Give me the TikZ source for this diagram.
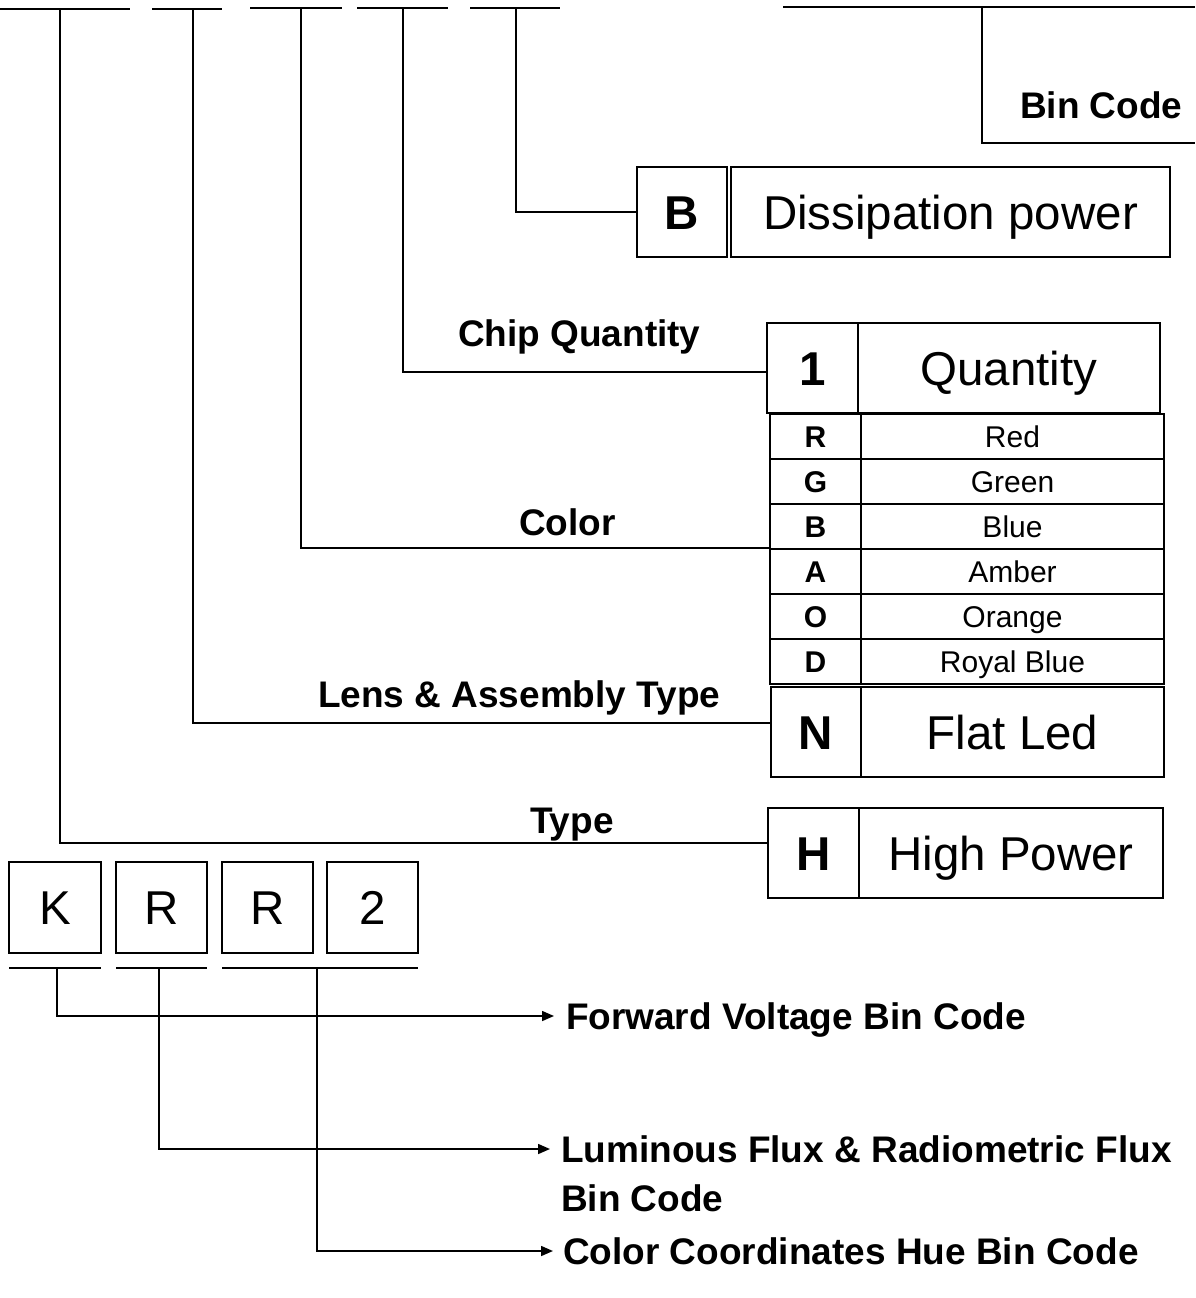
\documentclass[tikz,border=0pt]{standalone}
\usepackage{fontspec}
\setmainfont{Liberation Sans}
\usetikzlibrary{arrows.meta}
\begin{document}
\begin{tikzpicture}[x=1pt,y=-1pt, line width=2pt,
  cell/.style={draw, inner sep=0pt, anchor=center},
  big/.style={font=\fontsize{47.5}{50}\selectfont, text height=34pt, text depth=0pt},
  bigb/.style={font=\bfseries\fontsize{47.5}{50}\selectfont, text height=34pt, text depth=0pt},
  small/.style={font=\fontsize{30}{32}\selectfont, text height=21.5pt, text depth=0pt},
  smallb/.style={font=\bfseries\fontsize{30}{32}\selectfont, text height=21.5pt, text depth=0pt},
  lab/.style={font=\bfseries\fontsize{37}{40}\selectfont, text height=26.5pt, text depth=0pt, inner sep=0pt, anchor=west},
  arr/.style={-{Triangle[length=12pt,width=10pt]}, line width=1.6pt}]
\useasboundingbox (0,0) rectangle (1195,1298);

% top segments
\draw (0,9)--(130,9);
\draw (152,9)--(222,9);
\draw (250,8)--(342,8);
\draw (357,8)--(448,8);
\draw (470,8)--(560,8);
\coordinate (t1) at (60,9);
\coordinate (t2) at (193,9);
\coordinate (t3) at (301,8);
\coordinate (t4) at (403,8);
\coordinate (t5) at (516,8);

% top right bracket
\coordinate (br1) at (783,7);
\coordinate (br2) at (1195,7);
\coordinate (br3) at (982,7);
\coordinate (br4) at (1195,143);
\draw (br1)--(br2);
\draw (br3) |- (br4);
\node[lab] (bincode) at (1019,105) {Bin Code};

% B / Dissipation power
\node[cell,bigb,minimum width=90pt,minimum height=90pt] (bB) at (682,212) {B};
\node[cell,big,minimum width=439pt,minimum height=90pt] (bD) at (950.5,212) {Dissipation power};

% Quantity
\node[lab] (chipq) at (457,333) {Chip Quantity};
\node[cell,bigb,minimum width=91pt,minimum height=90pt] (q1) at (812.5,368) {1};
\node[cell,big,minimum width=302pt,minimum height=90pt] (q2) at (1009,368) {Quantity};

% Color rows
\foreach \nm/\k/\v/\y in {rR/R/Red/436.5, rG/G/Green/481.5, rB/B/Blue/526.5, rA/A/Amber/571.5, rO/O/Orange/616.5, rD/D/Royal Blue/661.5}{
  \node[cell,smallb,minimum width=91pt,minimum height=45pt] (\nm) at (815.5,\y) {\k};
  \node[cell,small,minimum width=303pt,minimum height=45pt] (\nm v) at (1012.5,\y) {\v};
}
\node[lab] (colorlab) at (518,522) {Color};

% N / Flat Led
\node[lab] (lens) at (317,694) {Lens \& Assembly Type};
\node[cell,bigb,minimum width=90pt,minimum height=90pt] (nL) at (816,732) {N};
\node[cell,big,minimum width=303pt,minimum height=90pt] (nR) at (1012.5,732) {Flat Led};

% H / High Power
\node[lab] (typelab) at (529,820) {Type};
\node[cell,bigb,minimum width=91pt,minimum height=90pt] (hL) at (813.5,853) {H};
\node[cell,big,minimum width=304pt,minimum height=90pt] (hR) at (1011,853) {High Power};

% connectors top
\draw (t5) |- (bB.west);
\draw (t4) |- ([yshift=-4pt]q1.west);
\draw (t3) |- (rA.north west);
\draw (t2) |- ([yshift=9pt]nL.west);
\draw (t1) |- ([yshift=10pt]hL.west);

% K R R 2
\node[cell,big,minimum width=92pt,minimum height=91pt] (k1) at (55,907.5) {K};
\node[cell,big,minimum width=91pt,minimum height=91pt] (k2) at (161.5,907.5) {R};
\node[cell,big,minimum width=91pt,minimum height=91pt] (k3) at (267.5,907.5) {R};
\node[cell,big,minimum width=91pt,minimum height=91pt] (k4) at (372.5,907.5) {2};

\draw (9,968)--(101,968);
\draw (116,968)--(207,968);
\draw (222,968)--(418,968);
\coordinate (u1) at (57,968);
\coordinate (u2) at (159,968);
\coordinate (u3) at (317,968);

\node[lab] (fv) at (565,1016) {Forward Voltage Bin Code};
\node[lab] (lf1) at (560,1149) {Luminous Flux \& Radiometric Flux};
\node[lab] (lf2) at (560,1198) {Bin Code};
\node[lab] (cc) at (562,1251) {Color Coordinates Hue Bin Code};

\draw[arr] (u1) |- ([xshift=-11pt]fv.west);
\draw[arr] (u2) |- ([xshift=-10pt]lf1.west);
\draw[arr] (u3) |- ([xshift=-9pt]cc.west);
\end{tikzpicture}
\end{document}
